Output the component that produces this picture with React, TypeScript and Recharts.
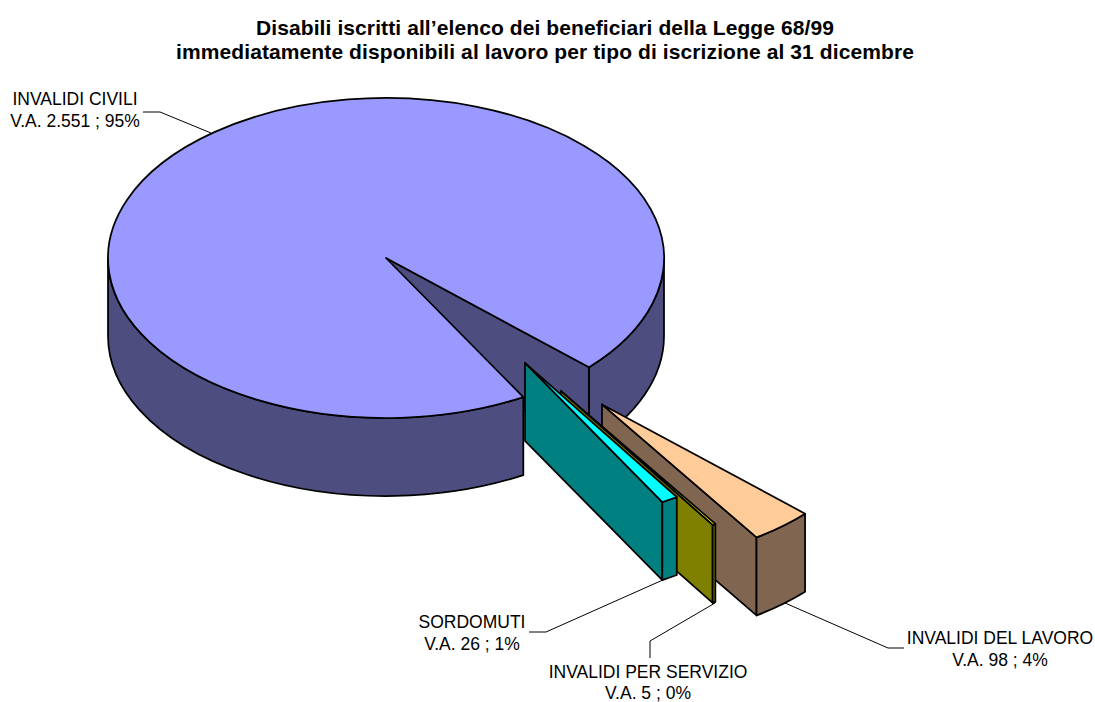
import { PieChart, Pie } from 'recharts';

// Dati
const CATEGORIE = ['INVALIDI CIVILI', 'INVALIDI DEL LAVORO', 'INVALIDI PER SERVIZIO', 'SORDOMUTI'];
const VALORI = [2551, 98, 5, 26];
const ETICHETTE = ['V.A. 2.551 ; 95%', 'V.A. 98 ; 4%', 'V.A. 5 ; 0%', 'V.A. 26 ; 1%'];
const TITOLO = [
  'Disabili iscritti all’elenco dei beneficiari della Legge 68/99',
  'immediatamente disponibili al lavoro per tipo di iscrizione al 31 dicembre',
];

// Stile: faccia superiore e pareti (metà luminosità)
const COLORI = ['#9999FF', '#FFCC99', '#FFFF00', '#00FFFF'];
const PARETI = ['#4D4D80', '#806650', '#808000', '#008080'];

// Esplosione delle fette, in frazioni del raggio (x, y)
const ESPLOSIONE_X = [0, 0.777, 0.629, 0.5];
const ESPLOSIONE_Y = [0, 0.915, 0.83, 0.656];

// Posizione delle etichette e delle linee guida
const ETICHETTA_X = [75, 1000, 648, 472];
const ETICHETTA_Y = [105, 644, 678, 628];
const ETICHETTA_DY = [22, 22, 21, 22];
const GUIDE = [
  '143,112 160,112 211,133',
  '904,648 888,648 785,603',
  '650,658 650,641 715,603',
  '529,632 546,632 665,579',
];

const LARGHEZZA = 1095;
const ALTEZZA = 702;
const CX = 386;
const CY = 258;
const RAGGIO = 278;
const SCHIACCIA = 160 / 278;
const SPESSORE = 78;

const dati = CATEGORIE.map((name, i) => ({ name, value: VALORI[i] }));

function Fetta3D(props: any) {
  const { cx, cy, outerRadius, startAngle, endAngle, index } = props;
  const rx = outerRadius;
  const ry = outerRadius * SCHIACCIA;
  const ax = cx + ESPLOSIONE_X[index] * rx;
  const ay = cy + ESPLOSIONE_Y[index] * ry;
  // angoli in senso orario sullo schermo
  const s = -startAngle;
  const e = -endAngle;
  const pt = (a: number, dz = 0) => {
    const r = (a * Math.PI) / 180;
    return `${ax + rx * Math.cos(r)},${ay + ry * Math.sin(r) + dz}`;
  };
  const coseno = (a: number) => Math.cos((a * Math.PI) / 180);

  const pareti: string[] = [];
  // pareti radiali visibili
  const radiale = (a: number) =>
    `M${ax},${ay} L${pt(a)} L${pt(a, SPESSORE)} L${ax},${ay + SPESSORE} Z`;
  if (coseno(e) > 0) pareti.push(radiale(e));
  if (coseno(s) < 0) pareti.push(radiale(s));
  // parete esterna: solo la parte rivolta verso chi guarda
  [0, 360].forEach((k) => {
    const lo = Math.max(s, k);
    const hi = Math.min(e, k + 180);
    if (lo < hi) {
      pareti.push(
        `M${pt(lo)} A${rx},${ry} 0 0 1 ${pt(hi)} L${pt(hi, SPESSORE)} A${rx},${ry} 0 0 0 ${pt(lo, SPESSORE)} Z`,
      );
    }
  });
  const sopra = `M${ax},${ay} L${pt(s)} A${rx},${ry} 0 ${e - s > 180 ? 1 : 0} 1 ${pt(e)} Z`;

  return (
    <g stroke="#000" strokeWidth={1.75} strokeLinejoin="round">
      {pareti.map((d, i) => (
        <path key={i} d={d} fill={PARETI[index]} />
      ))}
      <path d={sopra} fill={COLORI[index]} />
    </g>
  );
}

function Etichetta(props: any) {
  const { index } = props;
  return (
    <text
      x={ETICHETTA_X[index]}
      y={ETICHETTA_Y[index]}
      textAnchor="middle"
      fontFamily="'Liberation Sans', Arial, sans-serif"
      fontSize={17.5}
      fill="#000"
    >
      <tspan x={ETICHETTA_X[index]}>{CATEGORIE[index]}</tspan>
      <tspan x={ETICHETTA_X[index]} dy={ETICHETTA_DY[index]}>{ETICHETTE[index]}</tspan>
    </text>
  );
}

function Guida(props: any) {
  return <polyline points={GUIDE[props.index]} fill="none" stroke="#000" strokeWidth={1} />;
}

export default function App() {
  return (
    <div style={{ position: 'absolute', left: 0, top: 0, width: LARGHEZZA, height: ALTEZZA, background: '#fff' }}>
      <div
        style={{
          position: 'absolute',
          left: 0,
          top: 16,
          width: 1090,
          textAlign: 'center',
          fontFamily: "'Liberation Sans', Arial, sans-serif",
          fontWeight: 'bold',
          fontSize: 21,
          letterSpacing: 0.1,
          lineHeight: '24px',
          color: '#000',
          whiteSpace: 'nowrap',
        }}
      >
        {TITOLO.map((t) => (
          <div key={t}>{t}</div>
        ))}
      </div>
      <PieChart width={LARGHEZZA} height={ALTEZZA} margin={{ top: 0, right: 0, bottom: 0, left: 0 }}>
        <Pie
          data={dati}
          dataKey="value"
          nameKey="name"
          cx={CX}
          cy={CY}
          innerRadius={0}
          outerRadius={RAGGIO}
          startAngle={-60.4}
          endAngle={-420.4}
          shape={Fetta3D}
          label={Etichetta}
          labelLine={Guida}
          isAnimationActive={false}
        />
      </PieChart>
    </div>
  );
}
